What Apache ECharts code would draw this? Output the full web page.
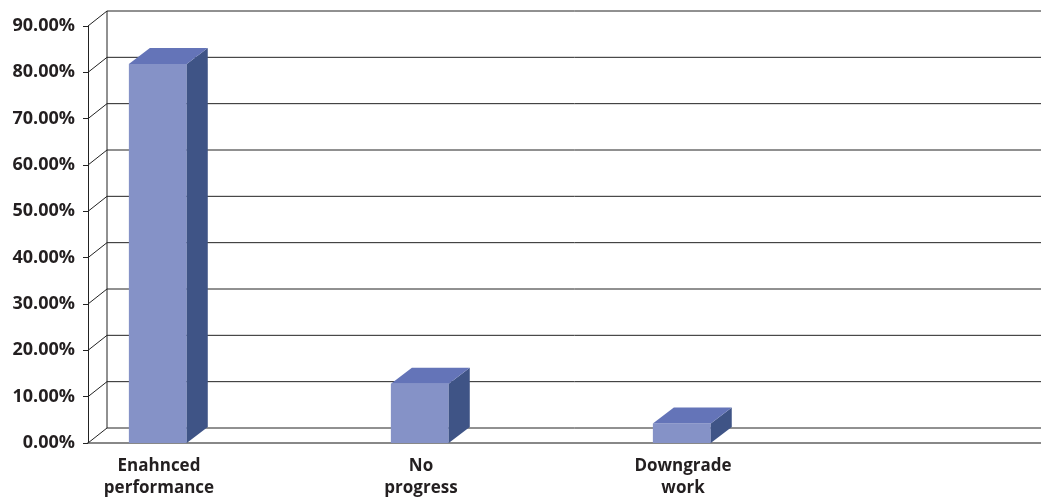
<!DOCTYPE html>
<html>
<head>
<meta charset="utf-8">
<script src="https://cdn.jsdelivr.net/npm/echarts@6/dist/echarts.min.js"></script>
<style>
    html, body { margin: 0; padding: 0; background: #fff; }
    #app { width: 1041px; height: 499px; }
</style>
</head>
<body>
<div id="app"></div>
<script>
// 数据
let categories = ["Enahnced\nperformance", "No\nprogress", "Downgrade\nwork", ""];
let values = [81.8, 12.8, 4.2];
let yTicks = [0, 10, 20, 30, 40, 50, 60, 70, 80, 90];

// 3D 深度偏移
let wallDx = 19, wallDy = -15;
let barDx = 21, barDy = -16;

let draw = () => {
    let myChart = echarts.init(document.querySelector("#app"));
    myChart.setOption({
        animation: false,
        textStyle: {
            fontFamily: "Open Sans"
        },
        // 第四个类目超出画布右侧
        grid: {
            left: 88,
            top: 26,
            bottom: 56,
            width: 4 * 262,
            outerBoundsMode: "none"
        },
        xAxis: {
            type: "category",
            data: categories,
            boundaryGap: true,
            axisLine: {
                lineStyle: { color: "#888", width: 2 }
            },
            axisTick: {
                length: 10,
                lineStyle: { color: "#333", width: 1 }
            },
            axisLabel: {
                margin: 12,
                interval: 0,
                fontSize: 17,
                fontWeight: "bold",
                color: "#231f20",
                lineHeight: 22,
                padding: [0, 120, 0, 0]
            },
            splitLine: { show: false }
        },
        yAxis: {
            type: "value",
            min: 0,
            max: 90,
            interval: 10,
            axisLine: {
                show: true,
                lineStyle: { color: "#222", width: 1 }
            },
            axisTick: {
                show: true,
                length: 5,
                lineStyle: { color: "#222" }
            },
            axisLabel: {
                margin: 13,
                fontSize: 18,
                fontWeight: "bold",
                color: "#231f20",
                formatter: (v) => v.toFixed(2) + "%"
            },
            splitLine: { show: false }
        },
        series: [
            {
                // 背景墙网格线
                type: "custom",
                z: 1,
                silent: true,
                data: yTicks.map((v) => [0, v]),
                renderItem: (params, api) => {
                    let cs = params.coordSys;
                    let y = api.coord([0, api.value(1)])[1];
                    let x0 = cs.x;
                    let x1 = cs.x + wallDx;
                    let children = [
                        {
                            type: "polyline",
                            shape: { points: [[x0, y], [x1, y + wallDy], [cs.x + cs.width + wallDx, y + wallDy]] },
                            style: { stroke: "#222", lineWidth: 1, fill: null }
                        }
                    ];
                    if (params.dataIndex === 0) {
                        children.push({
                            type: "line",
                            shape: { x1: x1, y1: cs.y + wallDy, x2: x1, y2: cs.y + cs.height + wallDy },
                            style: { stroke: "#222", lineWidth: 1 }
                        });
                    }
                    return { type: "group", children: children };
                }
            },
            {
                // 3D 柱子
                type: "custom",
                z: 5,
                data: values.map((v, i) => [i, v]),
                renderItem: (params, api) => {
                    let top = api.coord([api.value(0), api.value(1)]);
                    let base = api.coord([api.value(0), 0]);
                    let w = api.size([1, 0])[0];
                    let left = top[0] - w * 0.344;
                    let right = left + w * 0.221;
                    let yt = top[1], yb = base[1];
                    return {
                        type: "group",
                        children: [
                            {
                                type: "polygon",
                                shape: { points: [[left, yb], [right, yb], [right, yt], [left, yt]] },
                                style: { fill: "#8592c7" }
                            },
                            {
                                type: "polygon",
                                shape: { points: [[right, yb], [right + barDx, yb + barDy], [right + barDx, yt + barDy], [right, yt]] },
                                style: { fill: "#3f5486" }
                            },
                            {
                                type: "polygon",
                                shape: { points: [[left, yt], [right, yt], [right + barDx, yt + barDy], [left + barDx, yt + barDy]] },
                                style: { fill: "#6474b8" }
                            }
                        ]
                    };
                }
            }
        ]
    });
};
draw();
</script>
</body>
</html>
